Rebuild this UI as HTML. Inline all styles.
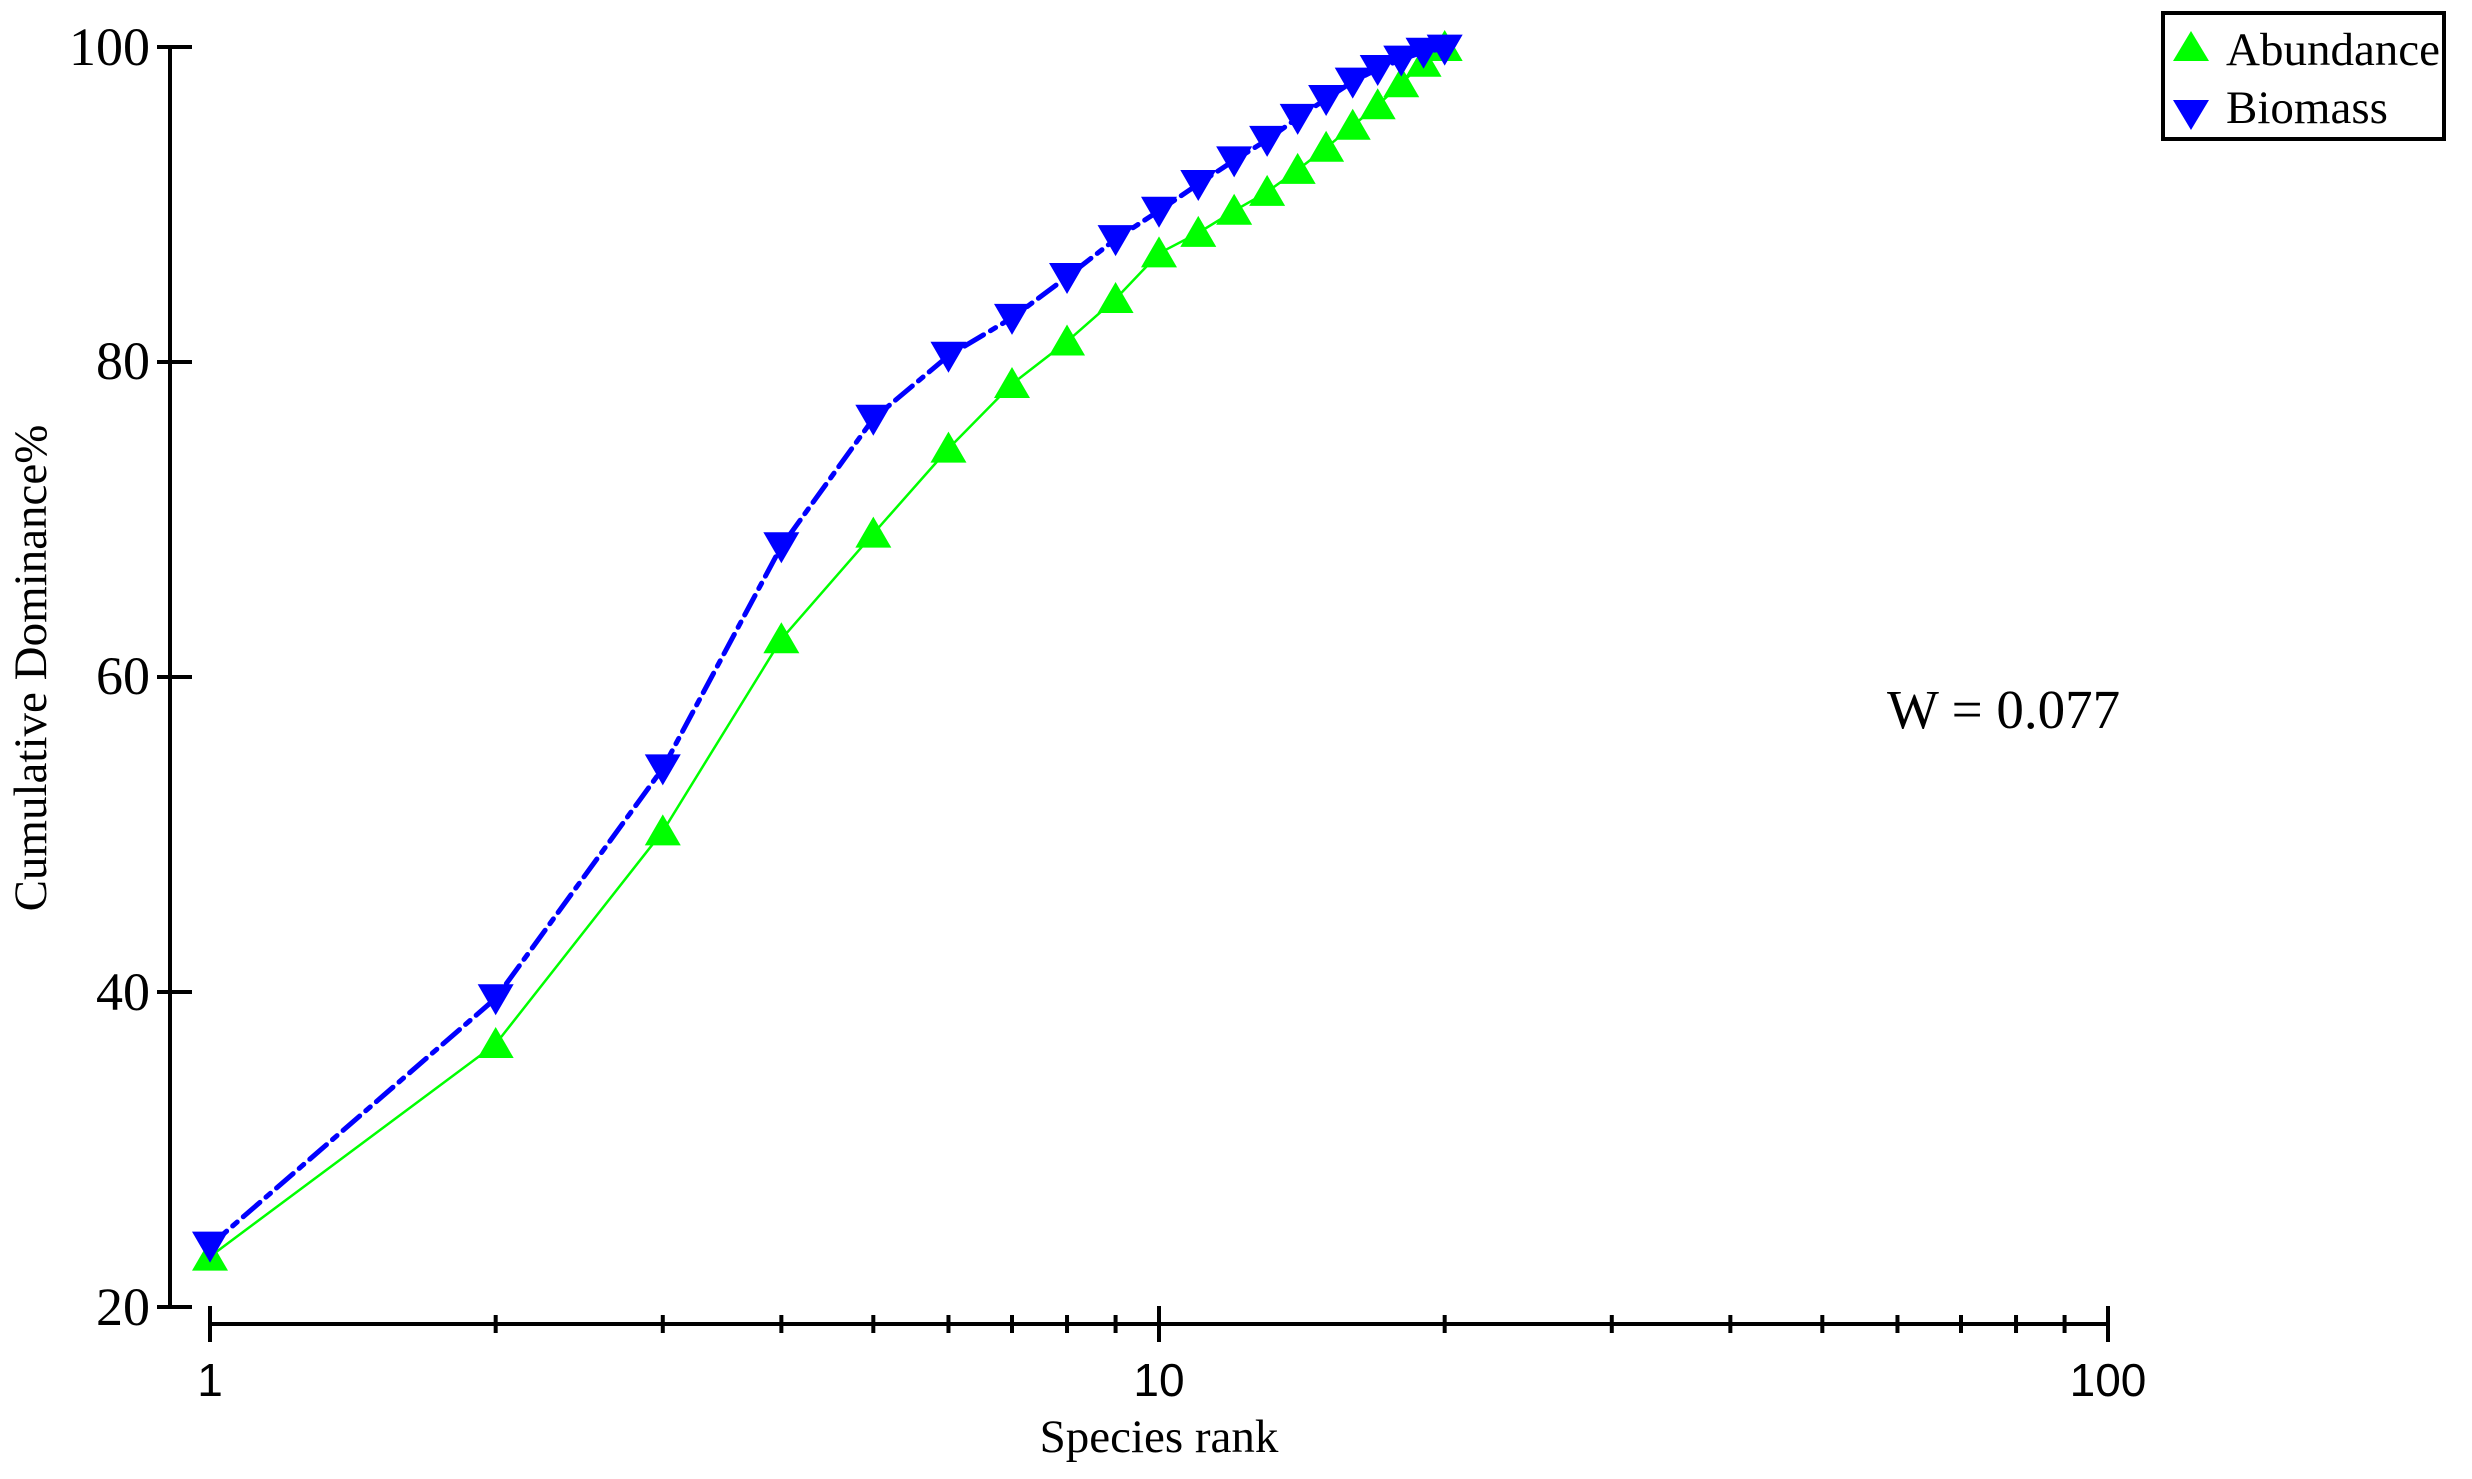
<!DOCTYPE html><html><head><style>body{margin:0;background:#fff}svg{display:block}text{font-family:"Liberation Serif",serif;fill:#000}</style></head><body>
<svg id="s" width="2472" height="1479" xmlns="http://www.w3.org/2000/svg">
<g stroke="#000" stroke-width="4" fill="none" id="ax"></g>
<g id="dat"></g>
<g font-size="54">
<text x="150" y="65" text-anchor="end">100</text>
<text x="150" y="379" text-anchor="end">80</text>
<text x="150" y="694" text-anchor="end">60</text>
<text x="150" y="1010" text-anchor="end">40</text>
<text x="150" y="1325" text-anchor="end">20</text>
<g font-family="Liberation Sans, sans-serif" font-size="46">
<text x="210" y="1396" text-anchor="middle" style="font-family:'Liberation Sans',sans-serif">1</text>
<text x="1159" y="1396" text-anchor="middle" style="font-family:'Liberation Sans',sans-serif">10</text>
<text x="2108" y="1396" text-anchor="middle" style="font-family:'Liberation Sans',sans-serif">100</text>
</g>
<text x="1159" y="1452" text-anchor="middle" font-size="47">Species rank</text>
<text transform="translate(46,668) rotate(-90)" text-anchor="middle" font-size="47">Cumulative Dominance%</text>
<text x="1887" y="728" font-size="55">W = 0.077</text>
<rect x="2163" y="13" width="281" height="126" fill="#fff" stroke="#000" stroke-width="4"/>
<polygon points="2173,61 2209,61 2191,31" fill="#00ff00"/>
<polygon points="2173,100 2209,100 2191,130" fill="#0000ff"/>
<text x="2226" y="65" font-size="47">Abundance</text>
<text x="2226" y="123" font-size="47">Biomass</text>
</g>
</svg>
<script>
const ax=document.getElementById('ax'),d=document.getElementById('dat');
function L(x1,y1,x2,y2,p){p=p||ax;const e=document.createElementNS('http://www.w3.org/2000/svg','line');e.setAttribute('x1',x1);e.setAttribute('y1',y1);e.setAttribute('x2',x2);e.setAttribute('y2',y2);p.appendChild(e);}
L(170,47,170,1307);
[100,80,60,40,20].forEach(v=>{const y=Y(v);L(157,y,192,y)});
L(210,1324,2108,1324);
for(let dec=0;dec<2;dec++)for(let k=1;k<=10;k++){const x=X(k*Math.pow(10,dec));if(k==1||k==10)L(x,1306,x,1342);else L(x,1315,x,1333);}
function X(r){return 210+949*Math.log10(r)}
function Y(v){return 47+(100-v)*15.75}
const A=[23.2,36.7,50.2,62.4,69.1,74.5,78.6,81.3,84,86.9,88.2,89.6,90.8,92.2,93.6,95,96.3,97.7,99,100];
const B=[23.9,39.6,54.2,68.3,76.4,80.4,82.8,85.4,87.8,89.6,91.3,92.8,94.1,95.5,96.7,97.8,98.6,99.2,99.7,99.9];
let h='';
const pa=A.map((v,i)=>X(i+1)+','+Y(v)).join(' '),pb=B.map((v,i)=>X(i+1)+','+Y(v)).join(' ');
h+=`<polyline points="${pa}" fill="none" stroke="#00ff00" stroke-width="2.5"/>`;
A.forEach((v,i)=>{const x=X(i+1),y=Y(v);h+=`<polygon points="${x-18},${y+14} ${x+18},${y+14} ${x},${y-17}" fill="#00ff00"/>`});
h+=`<polyline points="${pb}" fill="none" stroke="#0000ff" stroke-width="5" stroke-dasharray="22,8,6,8" stroke-linecap="round"/>`;
B.forEach((v,i)=>{const x=X(i+1),y=Y(v);h+=`<polygon points="${x-18},${y-14} ${x+18},${y-14} ${x},${y+17}" fill="#0000ff"/>`});
d.innerHTML=h;
</script>
</body></html>
